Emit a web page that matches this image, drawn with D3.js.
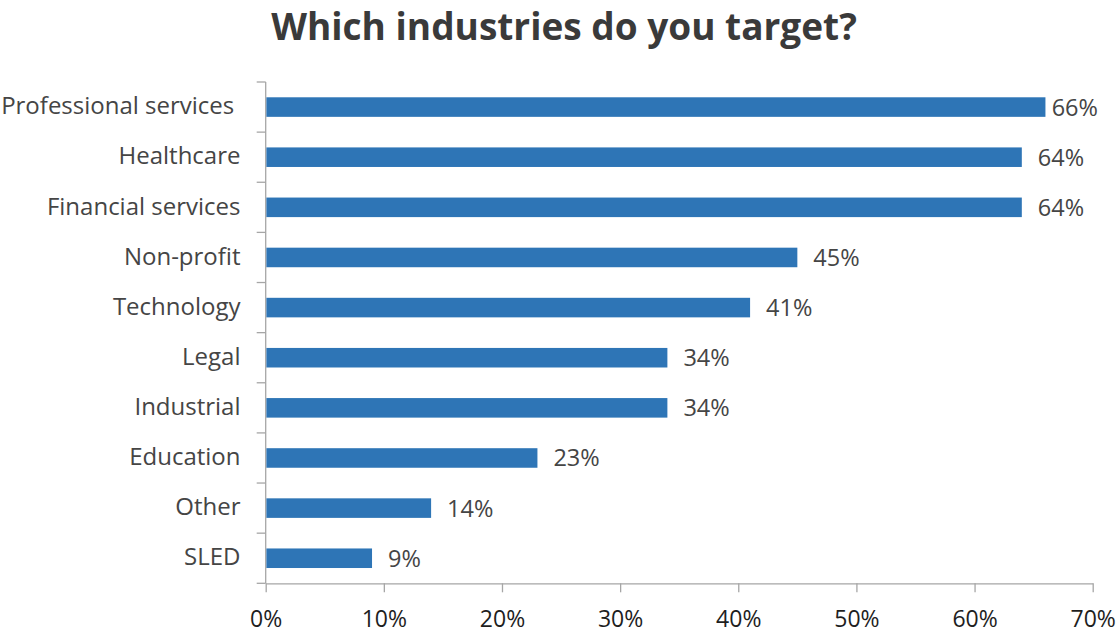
<!DOCTYPE html>
<html>
<head>
<meta charset="utf-8">
<script src="https://cdn.jsdelivr.net/npm/d3@7"></script>
<style>
  html, body { margin: 0; padding: 0; background: #ffffff; }
  svg { display: block; font-family: "Open Sans", "Noto Sans", sans-serif; }
</style>
</head>
<body>
<svg id="chart" width="1117" height="633"></svg>
<script>
// Survey responses: share of respondents targeting each industry
const categories = [
  "Professional services ", "Healthcare", "Financial services", "Non-profit",
  "Technology", "Legal", "Industrial", "Education", "Other", "SLED"
];
const values = [66, 64, 64, 45, 41, 34, 34, 23, 14, 9];
const xTicks = [0, 10, 20, 30, 40, 50, 60, 70];
const titleText = "Which industries do you target?";

const svg = d3.select("#chart");
const textColor = "#454545";
const tickColor = "#1e1e1e";
const axisColor = "#a6a6a6";
const barColor = "#2e75b6";

const x = d3.scaleLinear().domain([0, 70]).range([265.7, 1092.7]);
const y = d3.scaleBand().domain(categories).range([82, 583.3]).paddingInner(0.61).paddingOuter(0.305);

// Title
svg.append("text")
  .attr("x", 564).attr("y", 40)
  .attr("text-anchor", "middle")
  .attr("font-size", 37).attr("font-weight", 700)
  .attr("fill", "#3a3a3a")
  .text(titleText);

// Y axis: line with outward ticks on band boundaries
const yAxisG = svg.append("g");
yAxisG.append("line")
  .attr("x1", x(0)).attr("x2", x(0))
  .attr("y1", 82).attr("y2", 583.3)
  .attr("stroke", axisColor).attr("stroke-width", 1.3);
d3.range(categories.length + 1).forEach(i => {
  const yy = 82 + i * (501.3 / categories.length);
  yAxisG.append("line")
    .attr("x1", x(0) - 9).attr("x2", x(0))
    .attr("y1", yy).attr("y2", yy)
    .attr("stroke", axisColor).attr("stroke-width", 1.3);
});

// X axis
const xAxis = d3.axisBottom(x).tickValues(xTicks).tickFormat(d => d + "%").tickSize(9).tickSizeOuter(0);
const xg = svg.append("g").attr("transform", "translate(0,583.3)").call(xAxis);
xg.select(".domain").attr("stroke", axisColor).attr("stroke-width", 1.3);
xg.selectAll(".tick line").attr("stroke", axisColor).attr("stroke-width", 1.3);
xg.selectAll(".tick text")
  .attr("y", 44).attr("dy", 0)
  .attr("font-size", 23).attr("fill", tickColor)
  .attr("font-family", "Open Sans, Noto Sans, sans-serif");

// Category labels
svg.append("g").selectAll("text")
  .data(categories).join("text")
  .attr("x", 240.5)
  .attr("y", d => y(d) + y.bandwidth() / 2)
  .attr("dy", "0.3em")
  .attr("text-anchor", "end")
  .attr("font-size", 24).attr("fill", textColor)
  .style("white-space", "pre")
  .text(d => d);

// Bars
svg.append("g").selectAll("rect")
  .data(values).join("rect")
  .attr("x", x(0) + 0.7)
  .attr("y", (d, i) => y(categories[i]))
  .attr("width", d => x(d) - x(0) - 0.7)
  .attr("height", y.bandwidth())
  .attr("fill", barColor);

// Value labels, kept inside the plot's right edge
svg.append("g").selectAll("text")
  .data(values).join("text")
  .attr("y", (d, i) => y(categories[i]) + y.bandwidth() / 2)
  .attr("dy", "0.36em")
  .attr("font-size", 23.5).attr("fill", textColor)
  .text(d => d + "%")
  .attr("x", function(d) {
    const w = this.getComputedTextLength();
    return Math.min(x(d) + 16, 1098 - w);
  });
</script>
</body>
</html>
